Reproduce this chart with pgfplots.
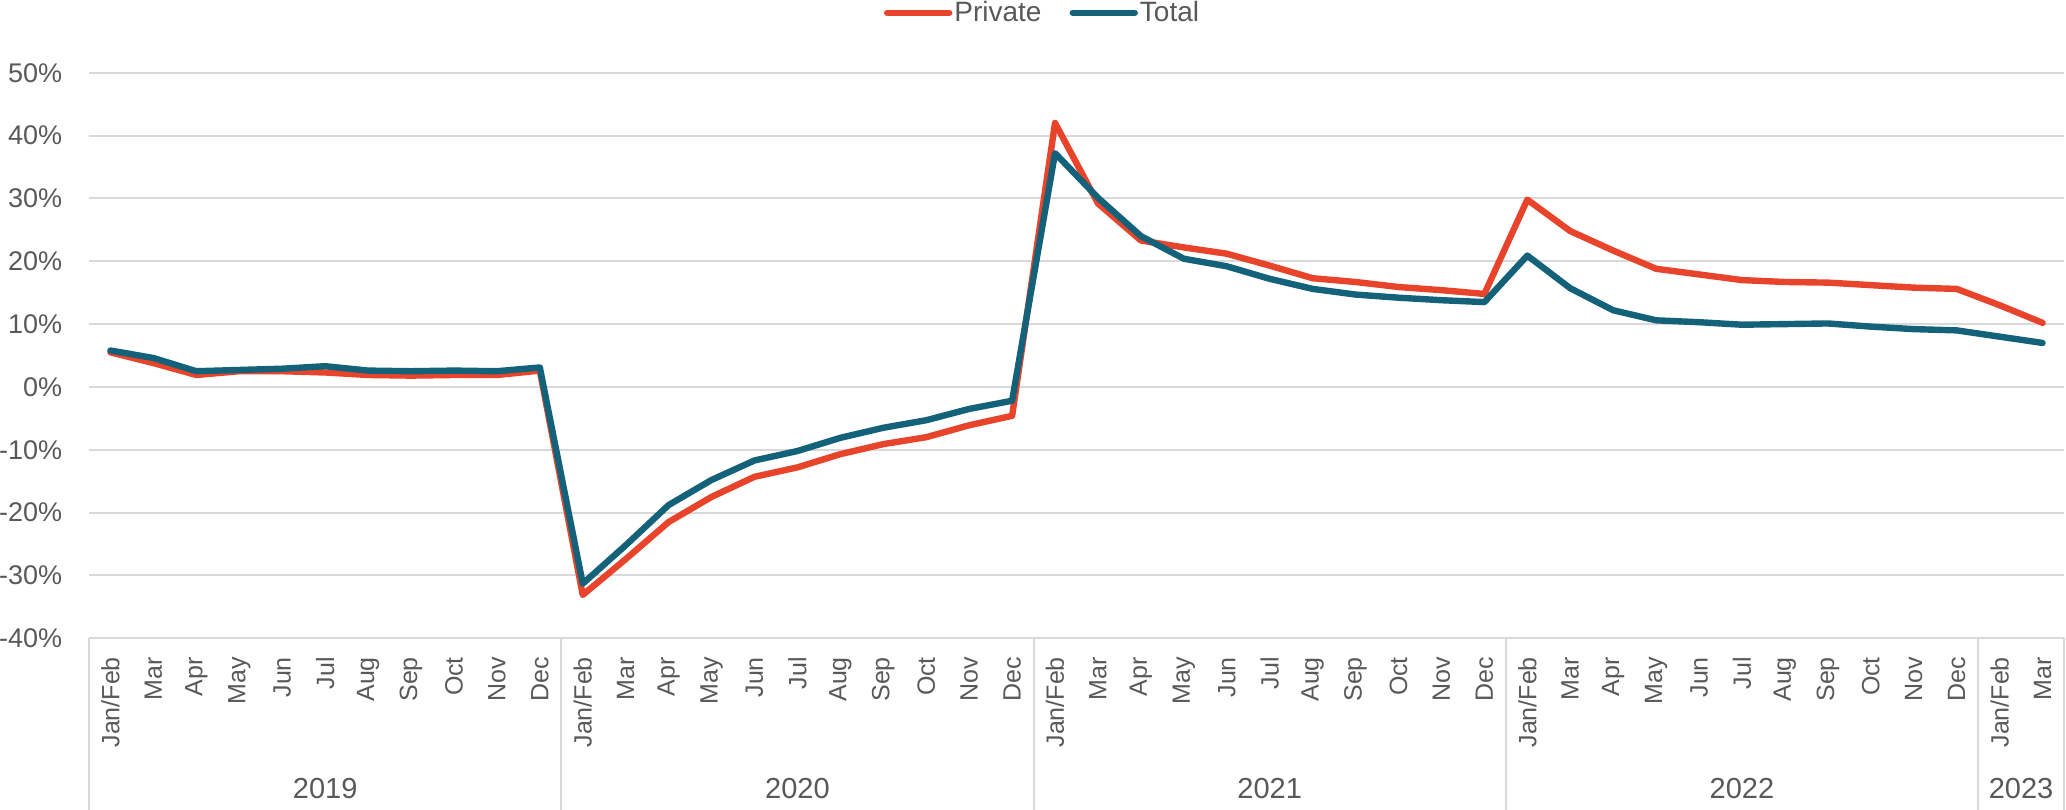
\documentclass[border=0pt]{standalone}
\usepackage{pgfplots}
\pgfplotsset{compat=1.18}
\usepackage{fontspec}
\setmainfont{Liberation Sans}

\definecolor{privred}{HTML}{E8442C}
\definecolor{totteal}{HTML}{13627A}
\definecolor{gridgray}{HTML}{D9D9D9}
\definecolor{txtgray}{HTML}{595959}

\begin{document}
\begin{tikzpicture}
\useasboundingbox (0,0) rectangle (1033pt,404.5pt);
\begin{axis}[
  at={(44.5pt,85.35pt)}, anchor=south west,
  scale only axis, width=987.5pt, height=282.8pt,
  xmin=-0.5, xmax=45.5, ymin=-40, ymax=50,
  enlargelimits=false, clip=false,
  axis line style={draw=none},
  major tick length=0pt, tick style={draw=none},
  ymajorgrids, grid style={gridgray, line width=1pt},
  ytick={-40,-30,...,50},
  yticklabels={-40\%,-30\%,-20\%,-10\%,0\%,10\%,20\%,30\%,40\%,50\%},
  yticklabel style={inner sep=0pt, xshift=-13.2pt, anchor=east,
    font=\fontsize{13.5}{16}\selectfont, text=txtgray},
  xtick={0,...,45},
  xticklabels={Jan/Feb,Mar,Apr,May,Jun,Jul,Aug,Sep,Oct,Nov,Dec,
               Jan/Feb,Mar,Apr,May,Jun,Jul,Aug,Sep,Oct,Nov,Dec,
               Jan/Feb,Mar,Apr,May,Jun,Jul,Aug,Sep,Oct,Nov,Dec,
               Jan/Feb,Mar,Apr,May,Jun,Jul,Aug,Sep,Oct,Nov,Dec,
               Jan/Feb,Mar},
  xticklabel style={inner sep=0pt, yshift=-9.2pt, rotate=90, anchor=east,
    font=\fontsize{12.5}{15}\selectfont, text=txtgray},
  legend columns=2,
  legend style={at={(0.4828,1.106)}, anchor=center, draw=none, fill=none,
    font=\fontsize{14}{16}\selectfont, text=txtgray,
    /tikz/every even column/.append style={column sep=13pt},
    nodes={inner sep=1pt}},
  legend image code/.code={\draw[#1, line cap=round] (0pt,0pt) -- (31pt,0pt);},
  every axis plot/.append style={line width=3.2pt, line join=round, line cap=round},
]
% Private
\addplot[privred] coordinates {
 (0,5.5) (1,3.8) (2,1.9) (3,2.5) (4,2.5) (5,2.3) (6,1.9) (7,1.8) (8,1.9) (9,1.9) (10,2.6)
 (11,-33.1) (12,-27.4) (13,-21.5) (14,-17.5) (15,-14.3) (16,-12.8) (17,-10.7) (18,-9.1) (19,-8.0) (20,-6.1) (21,-4.6)
 (22,42.0) (23,29.2) (24,23.3) (25,22.2) (26,21.2) (27,19.3) (28,17.3) (29,16.7) (30,15.9) (31,15.4) (32,14.8)
 (33,29.8) (34,24.8) (35,21.7) (36,18.8) (37,17.9) (38,17.0) (39,16.7) (40,16.6) (41,16.2) (42,15.8) (43,15.6)
 (44,13.0) (45,10.2)
};
\addlegendentry{Private}
% Total
\addplot[totteal] coordinates {
 (0,5.8) (1,4.6) (2,2.5) (3,2.7) (4,2.9) (5,3.3) (6,2.6) (7,2.5) (8,2.6) (9,2.5) (10,3.1)
 (11,-31.3) (12,-25.2) (13,-18.8) (14,-14.8) (15,-11.7) (16,-10.2) (17,-8.1) (18,-6.5) (19,-5.3) (20,-3.5) (21,-2.2)
 (22,37.2) (23,30.1) (24,24.0) (25,20.4) (26,19.2) (27,17.2) (28,15.6) (29,14.7) (30,14.2) (31,13.8) (32,13.5)
 (33,20.9) (34,15.7) (35,12.2) (36,10.6) (37,10.3) (38,9.9) (39,10.0) (40,10.1) (41,9.6) (42,9.2) (43,9.0)
 (44,8.0) (45,7.0)
};
\addlegendentry{Total}
% year group separators and labels
\foreach \xs in {-0.5,10.5,21.5,32.5,43.5,45.5}{
  \edef\temp{\noexpand\draw[gridgray, line width=1pt] (axis cs:\xs,-40) -- ++(0pt,-86pt);}
  \temp
}
\foreach \xc/\yr in {5/2019,16/2020,27/2021,38/2022,44.5/2023}{
  \edef\temp{\noexpand\node[anchor=base, inner sep=0pt, text=txtgray,
     font=\noexpand\fontsize{14.5}{17}\noexpand\selectfont]
     at (axis cs:\xc,-40) [yshift=-79.9pt] {\yr};}
  \temp
}
\end{axis}
\end{tikzpicture}
\end{document}
